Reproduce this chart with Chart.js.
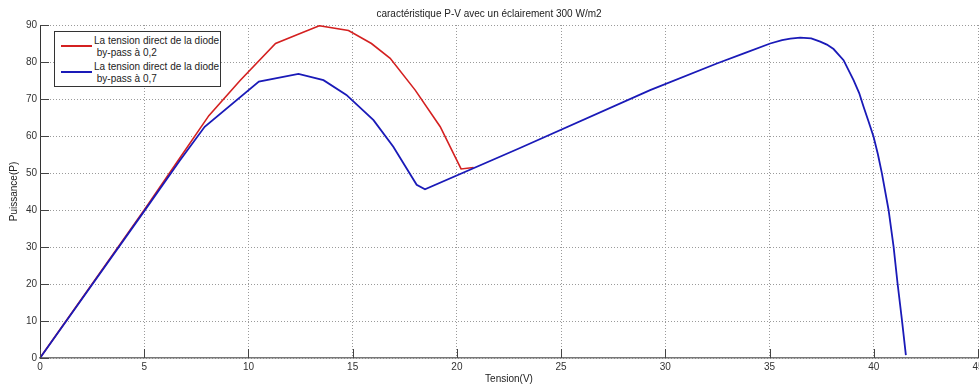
<!DOCTYPE html>
<html>
<head>
<meta charset="utf-8">
<script src="https://cdn.jsdelivr.net/npm/chart.js@4/dist/chart.umd.min.js"></script>
<style>
  body { margin: 0; background: #fff; }
  #wrap { position: relative; width: 979px; height: 388px; }
  #legend {
    position: absolute; left: 54px; top: 31px; width: 165px; height: 54px;
    border: 1px solid #333; background: #fff;
    font-family: 'Liberation Sans', Arial, sans-serif; font-size: 10px; color: #222;
  }
  .row { position: absolute; left: 0; width: 100%; height: 24px; }
  .sample { position: absolute; left: 6px; width: 31px; height: 2px; }
  .txt { position: absolute; left: 39px; white-space: pre; line-height: 11.6px; }
</style>
</head>
<body>
<div id="wrap">
  <canvas id="pv" width="979" height="388"></canvas>
  <div id="legend">
    <div class="row" style="top:3px">
      <div class="sample" style="top:10px;background:#d42020"></div>
      <div class="txt" style="top:0">La tension direct de la diode
 by-pass à 0,2</div>
    </div>
    <div class="row" style="top:29px">
      <div class="sample" style="top:10px;background:#1a1ab8"></div>
      <div class="txt" style="top:0">La tension direct de la diode
 by-pass à 0,7</div>
    </div>
  </div>
</div>
<script>
var redTension   = [0, 5, 6.7, 8.1, 9.6, 11.3, 12.3, 13.4, 14.8, 15.9, 16.8, 18.0, 19.2, 20.2, 20.8];
var redPuissance = [0, 40, 54, 65.5, 75, 85, 87.3, 89.8, 88.5, 85, 81, 72.4, 62.5, 51.1, 51.5];

var blueTension   = [0, 5, 6.7, 7.9, 10.5, 12.4, 13.6, 14.7, 16.0, 16.95, 18.07, 18.47, 23.0, 29.27, 32.47, 33.8, 35.03, 35.6, 36.0, 36.47, 37.0, 37.43, 37.75, 38.07, 38.55, 39.03, 39.3, 39.51, 39.75, 39.99, 40.2, 40.39, 40.71, 40.95, 41.14, 41.35, 41.54];
var bluePuissance = [0, 39.7, 53.3, 62.5, 74.7, 76.8, 75.1, 71.1, 64.3, 57.1, 46.8, 45.6, 56.7, 72.4, 79.6, 82.4, 85.0, 85.9, 86.3, 86.6, 86.4, 85.5, 84.7, 83.5, 80.5, 75.1, 71.6, 67.9, 63.9, 59.8, 55.0, 49.9, 40.0, 30.1, 20.2, 10.3, 0.8];

var xMin = 0, xMax = 45, xStep = 5;
var yMin = 0, yMax = 90, yStep = 10;

var titre = 'caractéristique P-V avec un éclairement 300 W/m2';
var labelX = 'Tension(V)';
var labelY = 'Puissance(P)';

function toPoints(xs, ys) {
    var pts = [];
    for (var i = 0; i < xs.length; i++) {
        pts.push({x: xs[i], y: ys[i]});
    }
    return pts;
}

var font = {family: "'Liberation Sans', Arial, sans-serif", size: 10};

// petits traits de graduation vers l'interieur, comme matlab
var innerTicks = {
    id: 'innerTicks',
    afterDraw: function(chart) {
        var ctx = chart.ctx, area = chart.chartArea;
        var sx = chart.scales.x, sy = chart.scales.y;
        ctx.save();
        ctx.strokeStyle = '#444';
        ctx.lineWidth = 1;
        ctx.beginPath();
        sx.ticks.forEach(function(t) {
            var px = Math.round(sx.getPixelForValue(t.value)) + 0.5;
            ctx.moveTo(px, area.bottom);
            ctx.lineTo(px, area.bottom - 9);
        });
        sy.ticks.forEach(function(t) {
            var py = Math.round(sy.getPixelForValue(t.value)) + 0.5;
            ctx.moveTo(area.left, py);
            ctx.lineTo(area.left + 9, py);
        });
        ctx.stroke();
        ctx.restore();
    }
};

var ctx = document.getElementById('pv');
var chart = new Chart(ctx, {
    type: 'line',
    data: {
        datasets: [
            {
                label: 'La tension direct de la diode by-pass à 0,7',
                data: toPoints(blueTension, bluePuissance),
                borderColor: '#1a1ab8',
                borderWidth: 1.8,
                pointRadius: 0,
                tension: 0
            },
            {
                label: 'La tension direct de la diode by-pass à 0,2',
                data: toPoints(redTension, redPuissance),
                borderColor: '#d42020',
                borderWidth: 1.6,
                pointRadius: 0,
                tension: 0
            }
        ]
    },
    options: {
        responsive: false,
        animation: false,
        layout: {padding: {left: 0, right: 1, top: 0, bottom: 0}},
        plugins: {
            legend: {display: false},
            tooltip: {enabled: false},
            title: {
                display: true,
                text: titre,
                color: '#222',
                font: {family: font.family, size: 10, weight: 'normal'},
                padding: {top: 8, bottom: 5}
            }
        },
        scales: {
            x: {
                type: 'linear',
                min: xMin, max: xMax,
                ticks: {stepSize: xStep, color: '#333', font: font, padding: 3, maxRotation: 0, autoSkip: false},
                grid: {color: '#9a9a9a', drawTicks: false, lineWidth: 1},
                border: {color: '#777', width: 1.5, dash: [1, 2]},
                title: {display: true, text: labelX, color: '#222', font: font, padding: {top: 0, bottom: 3}},
                afterFit: function(s) { s.height = 30; s.paddingLeft = 0; s.paddingRight = 0; }
            },
            y: {
                min: yMin, max: yMax,
                ticks: {stepSize: yStep, color: '#333', font: font, padding: 3},
                grid: {color: '#9a9a9a', drawTicks: false, lineWidth: 1},
                border: {color: '#333', width: 1, dash: [1, 2]},
                title: {display: true, text: labelY, color: '#222', font: font, padding: {top: 8, bottom: 0}},
                afterFit: function(s) { s.width = 40; s.paddingTop = 0; s.paddingBottom = 0; }
            }
        }
    },
    plugins: [innerTicks]
});
</script>
</body>
</html>
